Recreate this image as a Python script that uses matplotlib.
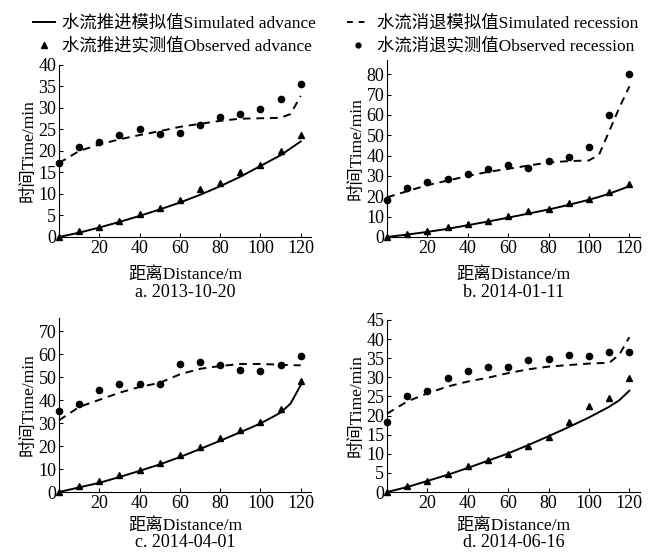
import numpy as np
import matplotlib
matplotlib.use('Agg')
import matplotlib.pyplot as plt
from matplotlib.lines import Line2D

plt.rcParams['font.family'] = ['Liberation Serif', 'Noto Sans CJK SC']
plt.rcParams['font.size'] = 12

# observation points (m)
x_obs = [0, 10, 20, 30, 40, 50, 60, 70, 80, 90, 100, 110, 120]

# a. 2013-10-20
a_adv_obs = [0, 1.3, 2.4, 3.8, 5.3, 6.7, 8.6, 11.2, 12.6, 15.2, 16.8, 20.0, 23.6]
a_rec_obs = [17.2, 21.0, 22.0, 23.7, 25.1, 23.9, 24.2, 26.1, 27.8, 28.5, 29.8, 32.0, 35.6]
a_x_sim = [0, 10, 20, 30, 40, 50, 60, 70, 80, 90, 100, 110, 115, 120]
a_adv_sim = [0, 1.0, 2.2, 3.5, 4.9, 6.4, 8.0, 9.8, 11.8, 14.0, 16.5, 19.0, 20.6, 22.2]
a_rec_sim = [17.2, 20.0, 21.5, 22.7, 23.7, 24.6, 25.6, 26.3, 27.0, 27.5, 27.6, 27.7, 28.6, 32.8]

# b. 2014-01-11
b_adv_obs = [0, 1.5, 2.8, 4.8, 6.6, 8.0, 10.5, 12.6, 13.8, 16.6, 18.9, 22.0, 26.1]
b_rec_obs = [18.4, 24.1, 26.8, 28.7, 31.0, 33.2, 35.3, 34.0, 37.3, 39.4, 44.2, 59.8, 80.0]
b_x_sim = [0, 10, 20, 30, 40, 50, 60, 70, 80, 90, 100, 105, 110, 115, 120]
b_adv_sim = [0, 1.2, 2.5, 4.0, 5.8, 7.6, 9.5, 11.5, 13.5, 15.8, 18.3, 19.7, 21.3, 23.1, 25.0]
b_rec_sim = [19.5, 22.5, 25.5, 27.7, 30.0, 32.0, 33.5, 35.1, 36.6, 37.3, 37.6, 40.5, 52.0, 63.5, 74.0]

# c. 2014-04-01
c_adv_obs = [0, 2.6, 4.8, 7.2, 9.7, 12.6, 15.9, 19.7, 23.5, 26.9, 30.3, 35.9, 48.1]
c_rec_obs = [35.4, 38.3, 44.3, 47.0, 46.8, 47.0, 55.5, 56.5, 55.1, 53.0, 52.5, 55.1, 59.1]
c_x_sim = [0, 10, 20, 30, 40, 50, 60, 70, 80, 90, 100, 110, 115, 120]
c_adv_sim = [0, 2.0, 4.0, 6.5, 9.2, 12.0, 15.2, 18.7, 22.3, 26.0, 29.8, 34.5, 38.5, 46.5]
c_rec_sim = [31.2, 37.0, 40.1, 43.2, 45.7, 47.5, 51.2, 53.6, 54.8, 55.7, 55.7, 55.4, 55.2, 55.1]

# d. 2014-06-16
d_adv_obs = [0, 1.7, 3.0, 4.7, 6.7, 8.4, 9.9, 12.0, 14.5, 18.2, 22.5, 24.5, 29.7]
d_rec_obs = [18.4, 25.2, 26.3, 29.7, 31.7, 32.6, 32.8, 34.6, 34.7, 35.9, 35.7, 36.5, 36.7]
d_x_sim = [0, 10, 20, 30, 40, 50, 60, 70, 80, 90, 100, 110, 115, 120]
d_adv_sim = [0, 1.3, 2.9, 4.5, 6.3, 8.2, 10.1, 12.3, 14.6, 17.0, 19.5, 22.3, 24.0, 26.5]
d_rec_sim = [20.5, 23.7, 25.8, 27.6, 28.9, 29.9, 31.1, 32.1, 32.8, 33.2, 33.6, 33.8, 35.9, 40.5]

panels = [
    ('a. 2013-10-20', a_x_sim, a_adv_sim, a_rec_sim, a_adv_obs, a_rec_obs, 40, 5, 40),
    ('b. 2014-01-11', b_x_sim, b_adv_sim, b_rec_sim, b_adv_obs, b_rec_obs, 87, 10, 80),
    ('c. 2014-04-01', c_x_sim, c_adv_sim, c_rec_sim, c_adv_obs, c_rec_obs, 75.7, 10, 70),
    ('d. 2014-06-16', d_x_sim, d_adv_sim, d_rec_sim, d_adv_obs, d_rec_obs, 45, 5, 45),
]

# axes boxes in figure fractions [left, bottom, width, height]
boxes = [
    [0.0889, 0.573, 0.380, 0.310],
    [0.583, 0.573, 0.381, 0.319],
    [0.0889, 0.1135, 0.380, 0.3135],
    [0.583, 0.1135, 0.381, 0.310],
]
# xlabel pad and caption offset (points below the axis), top row / bottom row
label_pads = [7, 7, 4.5, 4.5]
cap_offsets = [40, 40, 36, 36]

fig = plt.figure(figsize=(6.64, 5.55), dpi=100)

for i, (box, (cap, xs, adv_sim, rec_sim, adv_obs, rec_obs, ytop, ystep, ymaxtick)) in enumerate(zip(boxes, panels)):
    ax = fig.add_axes(box)
    ax.plot(xs, adv_sim, color='black', lw=1.4, clip_on=False)
    ax.plot(xs, rec_sim, color='black', lw=1.4, ls=(0, (4, 3)), clip_on=False)
    ax.plot(x_obs, adv_obs, ls='none', marker='^', ms=5, color='black', clip_on=False)
    ax.plot(x_obs, rec_obs, ls='none', marker='o', ms=4.5, color='black', clip_on=False)
    ax.set_xlim(0, 125.3)
    ax.set_ylim(0, ytop)
    ax.set_xticks([20, 40, 60, 80, 100, 120])
    ax.set_yticks(np.arange(0, ymaxtick + 1, ystep))
    ax.spines['top'].set_visible(False)
    ax.spines['right'].set_visible(False)
    ax.tick_params(direction='in', length=3, width=0.8, labelsize=13, pad=2)
    ax.set_xlabel('距离Distance/m', fontsize=12.5, labelpad=label_pads[i])
    ax.set_ylabel('时间Time/min', fontsize=12.5, labelpad=1)
    ax.annotate(cap, xy=(0.5, 0), xycoords='axes fraction',
                xytext=(0, -cap_offsets[i]), textcoords='offset points',
                ha='center', va='center', fontsize=13)

handles = [
    Line2D([], [], color='black', lw=1.4),
    Line2D([], [], ls='none', marker='^', ms=4, color='black'),
    Line2D([], [], color='black', lw=1.4, ls=(0, (3, 3))),
    Line2D([], [], ls='none', marker='o', ms=3.5, color='black'),
]
labels = ['水流推进模拟值Simulated advance', '水流推进实测值Observed advance',
          '水流消退模拟值Simulated recession', '水流消退实测值Observed recession']
fig.legend(handles, labels, ncol=2, frameon=False, loc='upper center',
           bbox_to_anchor=(0.505, 1.0), fontsize=12.5, handlelength=1.3,
           handletextpad=0.4, columnspacing=1.8, labelspacing=0.35)

fig.savefig('out.png', dpi=100)
